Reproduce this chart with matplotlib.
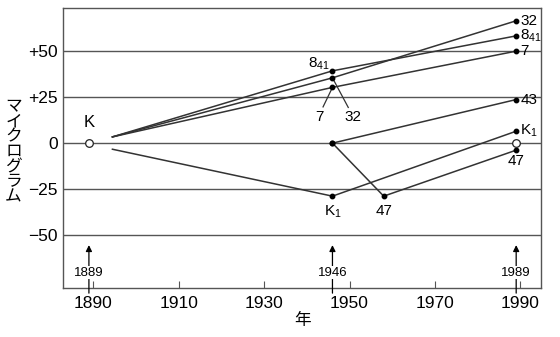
import matplotlib
matplotlib.use("Agg")
import matplotlib.pyplot as plt

plt.rcParams['font.family'] = ['Liberation Sans', 'Noto Sans CJK JP', 'DejaVu Sans']
plt.rcParams['mathtext.default'] = 'regular'

# data (micrograms vs. year)
yr_7 = [1894.5, 1946, 1989]
mg_7 = [3.4, 30.3, 50.0]
yr_32 = [1894.5, 1946, 1989]
mg_32 = [3.4, 35.5, 66.5]
yr_841 = [1894.5, 1946, 1989]
mg_841 = [3.4, 39.3, 58.3]
yr_k1 = [1894.5, 1946, 1989]
mg_k1 = [-3.3, -28.8, 6.5]
yr_43 = [1946, 1989]
mg_43 = [0.0, 23.7]
yr_47 = [1946, 1958, 1989]
mg_47 = [0.0, -28.8, -3.8]

open_years = [1889, 1989]
open_vals = [0, 0]

event_years = [1889, 1946, 1989]
yticks = [-50, -25, 0, 25, 50]
ytick_labels = ['\u221250', '\u221225', '0', '+25', '+50']
xticks = [1890, 1910, 1930, 1950, 1970, 1990]

line_c = '#333333'
grid_c = '#555555'

fig = plt.figure(figsize=(5.6, 3.37), dpi=100)
ax = fig.add_axes([0.113, 0.146, 0.853, 0.830])
ax.set_xlim(1883, 1994.8)
ax.set_ylim(-78.6, 73.4)

for v in yticks:
    ax.axhline(v, color=grid_c, lw=1.0, zorder=1)

for xs, ys in [(yr_7, mg_7), (yr_32, mg_32), (yr_841, mg_841), (yr_k1, mg_k1)]:
    ax.plot(xs, ys, color=line_c, lw=1.1, zorder=2)
    ax.plot(xs[1:], ys[1:], 'o', color='black', ms=3.2, zorder=3)
for xs, ys in [(yr_43, mg_43), (yr_47, mg_47)]:
    ax.plot(xs, ys, color=line_c, lw=1.1, zorder=2)
    ax.plot(xs, ys, 'o', color='black', ms=3.2, zorder=3)

ax.plot(open_years, open_vals, 'o', mfc='white', mec='#222222', mew=0.9, ms=5.5, zorder=4)

fs = 11
# right-hand labels
for lab, ys in [('32', mg_32), ('8$_{41}$', mg_841), ('7', mg_7), ('43', mg_43), ('K$_1$', mg_k1)]:
    ax.annotate(lab, (yr_32[-1], ys[-1]), xytext=(3, 0), textcoords='offset points',
                ha='left', va='center', fontsize=fs)
ax.annotate('47', (yr_47[-1], mg_47[-1]), xytext=(0, -8), textcoords='offset points',
            ha='center', va='center', fontsize=fs)
ax.annotate('K', (open_years[0], open_vals[0]), xytext=(0, 15), textcoords='offset points',
            ha='center', va='center', fontsize=fs + 1)
# middle labels
ax.annotate('8$_{41}$', (yr_841[1], mg_841[1]), xytext=(-2, 5), textcoords='offset points',
            ha='right', va='center', fontsize=fs)
ax.annotate('K$_1$', (yr_k1[1], mg_k1[1]), xytext=(0, -11), textcoords='offset points',
            ha='center', va='center', fontsize=fs)
ax.annotate('47', (yr_47[1], mg_47[1]), xytext=(0, -11), textcoords='offset points',
            ha='center', va='center', fontsize=fs)
ax.plot([yr_7[1], 1943.8], [mg_7[1], 19.7], color=line_c, lw=0.9, zorder=2)
ax.plot([yr_32[1], 1949.7], [mg_32[1], 19.4], color=line_c, lw=0.9, zorder=2)
ax.text(1942.9, 14.2, '7', ha='center', va='center', fontsize=fs)
ax.text(1950.8, 14.2, '32', ha='center', va='center', fontsize=fs)

# event arrows
for yr in event_years:
    ax.annotate('', xy=(yr, -55.4), xytext=(yr, -81.5),
                arrowprops=dict(arrowstyle='-|>', color='black', lw=0.9,
                                mutation_scale=9, shrinkA=0, shrinkB=0),
                annotation_clip=False)
    ax.text(yr, -70.5, str(yr), ha='center', va='center', fontsize=9.5,
            bbox=dict(facecolor='white', edgecolor='none', pad=0.3))

ax.set_yticks(yticks)
ax.set_yticklabels(ytick_labels, fontsize=12.5)
ax.tick_params(axis='y', length=0, pad=4)
ax.set_xticks(xticks)
ax.tick_params(axis='x', direction='in', length=5, labelsize=12.5, pad=6, color=grid_c)
for s in ax.spines.values():
    s.set_color(grid_c)
    s.set_linewidth(1.0)

ax.set_xlabel('年', fontsize=12, labelpad=1)
fig.text(0.024, 0.55, '\n'.join('マイクログラム'), ha='center', va='center',
         fontsize=12, linespacing=1.0)

fig.savefig('out.png', dpi=100)
